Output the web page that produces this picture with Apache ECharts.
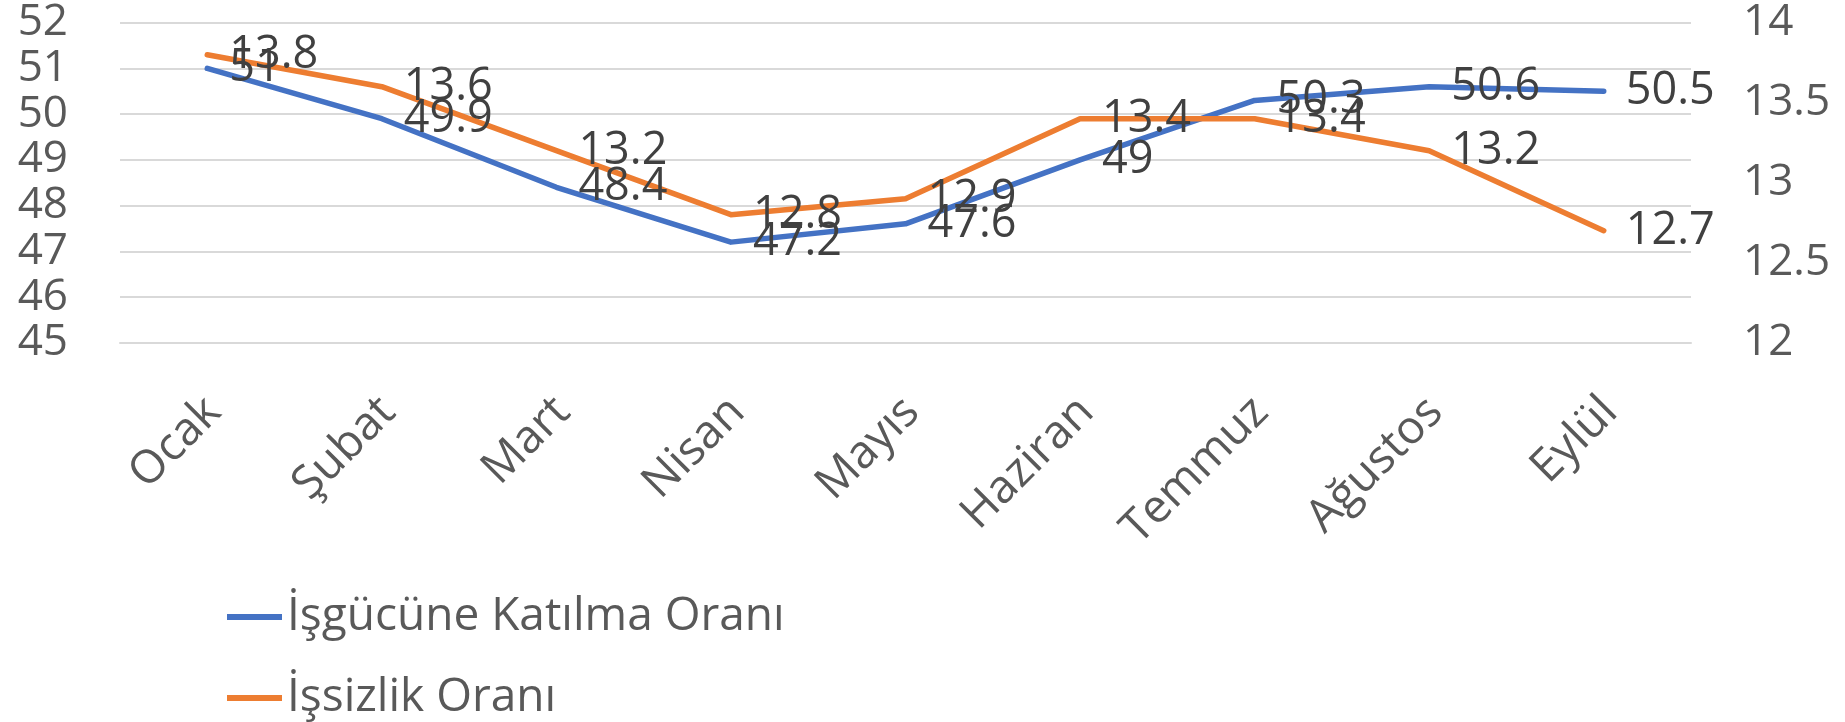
<!DOCTYPE html>
<html>
<head>
<meta charset="utf-8">
<script src="https://cdn.jsdelivr.net/npm/echarts@6/dist/echarts.min.js"></script>
<style>
  html, body { margin: 0; padding: 0; background: #fff; }
  #chart { width: 1845px; height: 722px; }
</style>
</head>
<body>
<div id="chart"></div>
<script>
const categories = ['Ocak', 'Şubat', 'Mart', 'Nisan', 'Mayıs', 'Haziran', 'Temmuz', 'Ağustos', 'Eylül'];
const participationName = 'İşgücüne Katılma Oranı';
const participation = [51, 49.9, 48.4, 47.2, 47.6, 49, 50.3, 50.6, 50.5];
const unemploymentName = 'İşsizlik Oranı';
const unemployment = [13.8, 13.6, 13.2, 12.8, 12.9, 13.4, 13.4, 13.2, 12.7];

const FONT = 'Open Sans';
const legendText = { fontFamily: FONT, fontSize: 46, color: '#595959' };
const chart = echarts.init(document.getElementById('chart'), null, { renderer: 'canvas' });
chart.setOption({
  animation: false,
  backgroundColor: '#ffffff',
  textStyle: { fontFamily: FONT },
  grid: { left: 120, right: 154, top: 22.7, bottom: 379.3, containLabel: false },
  legend: [
    {
      left: 222, top: 589, icon: 'rect', itemWidth: 55, itemHeight: 6, itemGap: 0,
      textStyle: legendText, data: [participationName]
    },
    {
      left: 222, top: 670, icon: 'rect', itemWidth: 55, itemHeight: 6, itemGap: 0,
      textStyle: legendText, data: [unemploymentName]
    }
  ],
  xAxis: {
    type: 'category',
    data: categories,
    boundaryGap: true,
    axisLine: { show: true, lineStyle: { color: '#D9D9D9', width: 2 } },
    axisTick: { show: false },
    axisLabel: {
      rotate: 45,
      margin: 36,
      align: 'right',
      verticalAlign: 'top',
      padding: [0, 14, 0, 0],
      fontFamily: FONT,
      fontSize: 46,
      color: '#595959',
      interval: 0
    }
  },
  yAxis: [
    {
      type: 'value',
      min: 45, max: 52, interval: 1,
      axisLine: { show: false },
      axisTick: { show: false },
      axisLabel: { margin: 52, fontFamily: FONT, fontSize: 44, color: '#595959' },
      splitLine: { show: true, lineStyle: { color: '#D9D9D9', width: 2 } }
    },
    {
      type: 'value',
      min: 12, max: 14, interval: 0.5,
      axisLine: { show: false },
      axisTick: { show: false },
      axisLabel: { margin: 52, fontFamily: FONT, fontSize: 44, color: '#595959' },
      splitLine: { show: false }
    }
  ],
  series: [
    {
      name: participationName,
      type: 'line',
      yAxisIndex: 0,
      data: participation,
      showSymbol: true,
      symbol: 'circle',
      symbolSize: 0,
      lineStyle: { color: '#4472C4', width: 5.5, cap: 'round', join: 'round' },
      itemStyle: { color: '#4472C4' },
      label: { show: true, position: 'right', distance: 22, fontFamily: FONT, fontSize: 45, color: '#404040' }
    },
    {
      name: unemploymentName,
      type: 'line',
      yAxisIndex: 1,
      data: unemployment,
      showSymbol: true,
      symbol: 'circle',
      symbolSize: 0,
      lineStyle: { color: '#ED7D31', width: 5.5, cap: 'round', join: 'round' },
      itemStyle: { color: '#ED7D31' },
      label: { show: true, position: 'right', distance: 22, fontFamily: FONT, fontSize: 45, color: '#404040' }
    }
  ]
});
</script>
</body>
</html>
